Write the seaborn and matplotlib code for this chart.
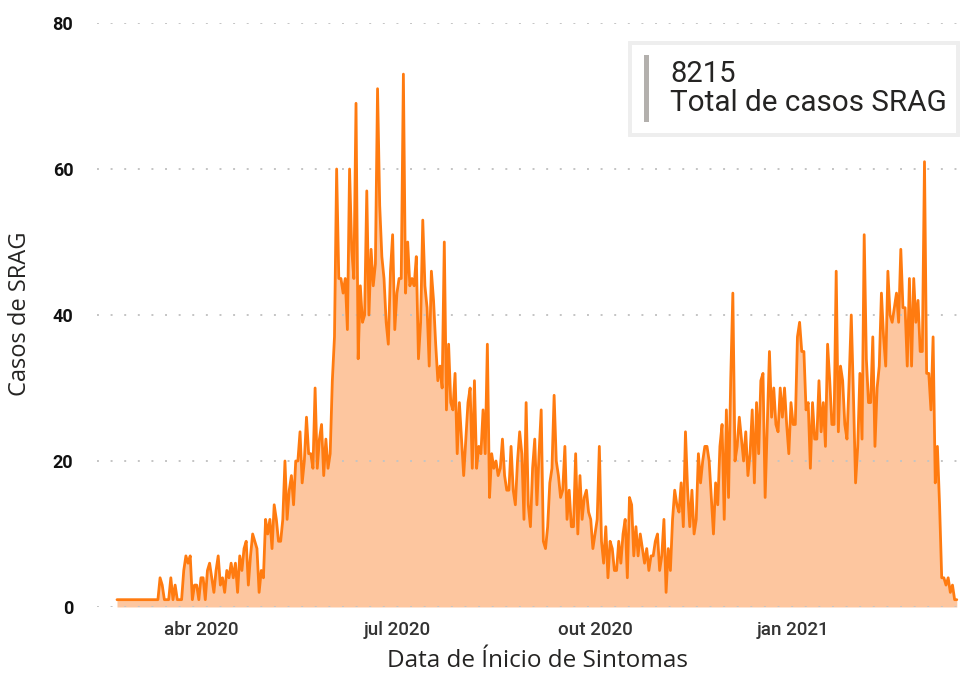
import pandas as pd
import matplotlib
matplotlib.use("Agg")
import matplotlib.pyplot as plt
import seaborn as sns
from matplotlib.patches import Rectangle

# casos diarios de SRAG por data de inicio de sintomas
start_date = "2020-02-22"
casos = (
    [1] * 20
    + [4, 3, 1, 1, 1, 4, 1, 3, 1, 1, 1, 5, 7, 6, 7, 1, 3, 3, 1, 4, 4, 1, 5, 6, 4, 2, 5, 7, 3, 4, 2, 5, 4, 6, 4]
    + [6, 2, 7, 5, 8, 9, 3, 7, 10, 9, 8, 2, 5, 4, 12, 10, 12, 8, 14, 12, 9, 9, 12, 20, 12, 16, 18, 14, 20, 20,
       24, 17, 20, 26, 21, 21, 19, 30, 19, 23, 25, 18, 23, 19, 21, 31, 37, 60, 45, 45, 43, 45, 38, 60, 49, 45,
       69, 34, 44, 39, 40]
    + [57, 40, 49, 44, 47, 71, 55, 48, 45, 39, 36, 46, 51, 38, 43, 45, 45, 73, 43, 50, 44, 45, 44, 48, 34, 39,
       53, 44, 41, 33, 46, 42, 36, 31, 33, 30, 50, 27, 36, 28, 27, 32, 21, 28, 23, 18, 23, 28, 30, 19, 31, 19,
       22, 21, 27, 21]
    + [36, 15, 21, 19, 20, 18, 19, 23, 18, 16, 16, 22, 16, 14, 20, 24, 21, 12, 28, 14, 11, 19, 23, 14, 21, 27,
       9, 8, 11, 17, 19, 29, 20, 18, 15, 16, 22, 12, 16, 11, 11, 21, 10, 18, 12, 15, 16, 13, 12, 8, 10, 12, 22,
       9, 6, 11, 4, 9]
    + [8, 5, 5, 9, 6, 10, 12, 4, 15, 14, 7, 11, 7, 10, 8, 6, 8, 5, 7, 7, 9, 10, 5, 7, 12, 2, 8, 5, 12, 16, 14,
       13, 17, 11, 24, 16, 11, 16, 10, 12, 21, 17, 20, 22, 22, 20, 15, 10, 17, 14, 22, 25, 12, 27, 15, 31, 43]
    + [20, 22, 26, 23, 20, 24, 18, 21, 27, 17, 28, 21, 31, 32, 15, 25, 35, 26, 30, 25, 24, 30, 26, 30, 25, 21,
       28, 25, 25, 37, 39, 35, 35, 27, 28, 19, 28, 23, 23, 31, 24, 28, 22, 36, 31, 25, 25, 46, 24, 33, 31, 25,
       23, 31, 40, 29, 17, 22, 32, 23]
    + [51, 34, 28, 28, 37, 22, 30, 33, 43, 37, 33, 46, 40, 39, 41, 43, 39, 49, 41, 41, 33, 45, 33, 45, 39, 42,
       35, 35, 61, 32, 32, 27, 37, 17, 22, 14, 4, 4, 3, 4, 2, 3, 1, 1]
)

tick_dates = ["2020-04-01", "2020-07-01", "2020-10-01", "2021-01-01"]
tick_labels = ["abr 2020", "jul 2020", "out 2020", "jan 2021"]
y_ticks = [0, 20, 40, 60, 80]
total_label = "8215"
card_label = "Total de casos SRAG"

df = pd.DataFrame({
    "data": pd.date_range(start_date, periods=len(casos), freq="D"),
    "casos": casos,
})

sns.set_style("white")
plt.rcParams["font.family"] = ["Roboto", "DejaVu Sans"]

line_color = "#ff7b10"
fill_color = "#fdc69f"
text_color = "#252423"

fig = plt.figure(figsize=(9.63, 6.73), dpi=100)
ax = fig.add_axes([0.1007, 0.0981, 0.8962, 0.8677])

ax.fill_between(df["data"], df["casos"], 0, color=fill_color, lw=0, zorder=1)
sns.lineplot(data=df, x="data", y="casos", color=line_color, lw=2.0, ax=ax, zorder=3)

ax.set_xlim(df["data"].iloc[0] - pd.Timedelta(days=9.3), df["data"].iloc[-1] + pd.Timedelta(days=1.5))
ax.set_ylim(0, 80)

ax.set_yticks(y_ticks)
ax.set_yticklabels([str(v) for v in y_ticks], fontsize=13, fontweight="bold", color="#111111")
ax.set_xticks(pd.to_datetime(tick_dates))
ax.set_xticklabels(tick_labels, fontsize=13.5, fontweight="medium", color="#333333")
ax.tick_params(axis="y", length=0, pad=17)
ax.tick_params(axis="x", length=0, pad=10)

ax.set_axisbelow(False)
ax.yaxis.grid(True, linestyle=(0, (1, 6)), linewidth=1.4, color="#c4c4c4")
ax.xaxis.grid(False)
for s in ax.spines.values():
    s.set_visible(False)

ax.set_xlabel("Data de Ínicio de Sintomas", fontsize=17.5, color=text_color,
              family=["Open Sans", "DejaVu Sans"])
ax.xaxis.set_label_coords(0.51, -0.0925)
ax.xaxis.label.set_va("center")
ax.set_ylabel("Casos de SRAG", fontsize=17, color=text_color,
              family=["Open Sans", "DejaVu Sans"])
ax.yaxis.set_label_coords(-0.089, 0.502)
ax.yaxis.label.set_va("center")

# cartao com o total
W, H = 963, 673
fig.patches.append(Rectangle((630 / W, (H - 135) / H), 328 / W, 92 / H, transform=fig.transFigure,
                             facecolor="white", edgecolor="#eeeeee", lw=2.8, zorder=5))
fig.patches.append(Rectangle((644 / W, (H - 122) / H), 5 / W, 67 / H, transform=fig.transFigure,
                             facecolor="#b3b0ad", edgecolor="none", zorder=6))
fig.text(670 / W, (H - 82) / H, total_label, fontsize=21, color=text_color, va="baseline", zorder=7)
fig.text(670 / W, (H - 111) / H, card_label, fontsize=21.3, color=text_color, va="baseline", zorder=7)

fig.savefig("out.png", dpi=100)
